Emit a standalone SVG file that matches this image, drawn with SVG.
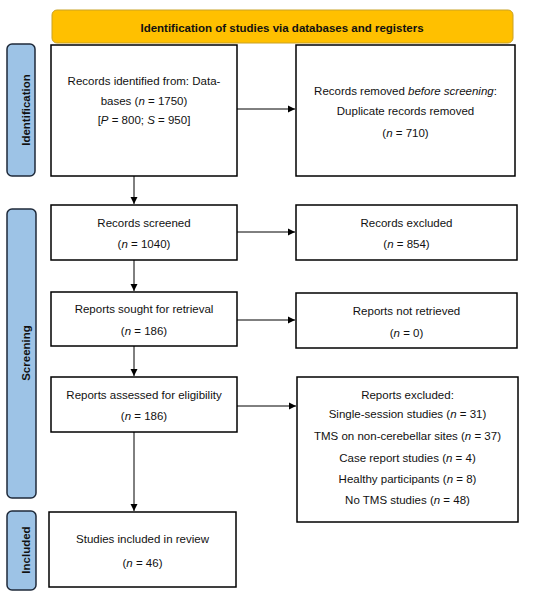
<svg xmlns="http://www.w3.org/2000/svg" width="550" height="595" viewBox="0 0 550 595">
<defs>
<marker id="ah" markerWidth="8" markerHeight="8" refX="7" refY="4" orient="auto" markerUnits="userSpaceOnUse">
<path d="M0,0.5 L7,4 L0,7.5 Z" fill="#000"/>
</marker>
<style>
.box{fill:#fff;stroke:#000;stroke-width:1.5}
.side{fill:#9DC3E6;stroke:#1f2a3a;stroke-width:1.5}
.banner{fill:#FFC000;stroke:#c9a227;stroke-width:1}
text{font-family:"Liberation Sans",Arial,sans-serif;font-size:11.5px;fill:#111;text-anchor:middle}
.b{font-weight:bold}
.conn{stroke:#000;stroke-width:1;fill:none;marker-end:url(#ah)}
</style>
</defs>
<rect width="550" height="595" fill="#fff"/>
<g id="banner">
<rect class="banner" x="52" y="10" width="461" height="33" rx="5"/>
<text class="b" x="282" y="32">Identification of studies via databases and registers</text>
</g>
<g id="label-identification">
<rect class="side" x="7" y="44" width="28" height="132" rx="5"/>
<text class="b" transform="translate(29.5,110) rotate(-90)">Identification</text>
</g>
<g id="label-screening">
<rect class="side" x="7" y="209" width="29" height="289" rx="5"/>
<text class="b" transform="translate(29.5,353) rotate(-90)">Screening</text>
</g>
<g id="label-included">
<rect class="side" x="7" y="511" width="29" height="79" rx="5"/>
<text class="b" transform="translate(29.5,550) rotate(-90)">Included</text>
</g>
<g id="n1">
<rect class="box" x="51" y="45" width="186" height="131"/>
<text x="144" y="85">Records identified from: Data-</text>
<text x="144" y="105">bases (<tspan font-style="italic">n</tspan> = 1750)</text>
<text x="144" y="124">[<tspan font-style="italic">P</tspan> = 800; <tspan font-style="italic">S</tspan> = 950]</text>
</g>
<g id="n2">
<rect class="box" x="296" y="45" width="219" height="131"/>
<text x="405.5" y="95">Records removed <tspan font-style="italic">before screening</tspan>:</text>
<text x="405.5" y="115">Duplicate records removed</text>
<text x="405.5" y="137">(<tspan font-style="italic">n</tspan> = 710)</text>
</g>
<g id="n3">
<rect class="box" x="51" y="205" width="186" height="55"/>
<text x="144" y="227">Records screened</text>
<text x="144" y="248">(<tspan font-style="italic">n</tspan> = 1040)</text>
</g>
<g id="n4">
<rect class="box" x="296" y="205" width="221" height="55"/>
<text x="406.5" y="227">Records excluded</text>
<text x="406.5" y="248">(<tspan font-style="italic">n</tspan> = 854)</text>
</g>
<g id="n5">
<rect class="box" x="51" y="292" width="186" height="54"/>
<text x="144" y="313">Reports sought for retrieval</text>
<text x="144" y="335">(<tspan font-style="italic">n</tspan> = 186)</text>
</g>
<g id="n6">
<rect class="box" x="296" y="293" width="221" height="55"/>
<text x="406.5" y="315">Reports not retrieved</text>
<text x="406.5" y="337">(<tspan font-style="italic">n</tspan> = 0)</text>
</g>
<g id="n7">
<rect class="box" x="51" y="377" width="186" height="55"/>
<text x="144" y="399">Reports assessed for eligibility</text>
<text x="144" y="420">(<tspan font-style="italic">n</tspan> = 186)</text>
</g>
<g id="n8">
<rect class="box" x="297" y="377" width="221" height="145"/>
<text x="407.5" y="399">Reports excluded:</text>
<text x="407.5" y="418">Single-session studies (<tspan font-style="italic">n</tspan> = 31)</text>
<text x="407.5" y="440">TMS on non-cerebellar sites (<tspan font-style="italic">n</tspan> = 37)</text>
<text x="407.5" y="462">Case report studies (<tspan font-style="italic">n</tspan> = 4)</text>
<text x="407.5" y="483">Healthy participants (<tspan font-style="italic">n</tspan> = 8)</text>
<text x="407.5" y="504">No TMS studies (<tspan font-style="italic">n</tspan> = 48)</text>
</g>
<g id="n9">
<rect class="box" x="49" y="512" width="187" height="75"/>
<text x="142.5" y="543">Studies included in review</text>
<text x="142.5" y="567">(<tspan font-style="italic">n</tspan> = 46)</text>
</g>
<g id="connectors">
<line class="conn" x1="237" y1="109" x2="295" y2="109"/>
<line class="conn" x1="134" y1="176" x2="134" y2="204"/>
<line class="conn" x1="237" y1="232" x2="295" y2="232"/>
<line class="conn" x1="134" y1="260" x2="134" y2="291"/>
<line class="conn" x1="237" y1="320" x2="295" y2="320"/>
<line class="conn" x1="134" y1="346" x2="134" y2="376"/>
<line class="conn" x1="237" y1="406" x2="296" y2="406"/>
<line class="conn" x1="134" y1="432" x2="134" y2="511"/>
</g>
</svg>
